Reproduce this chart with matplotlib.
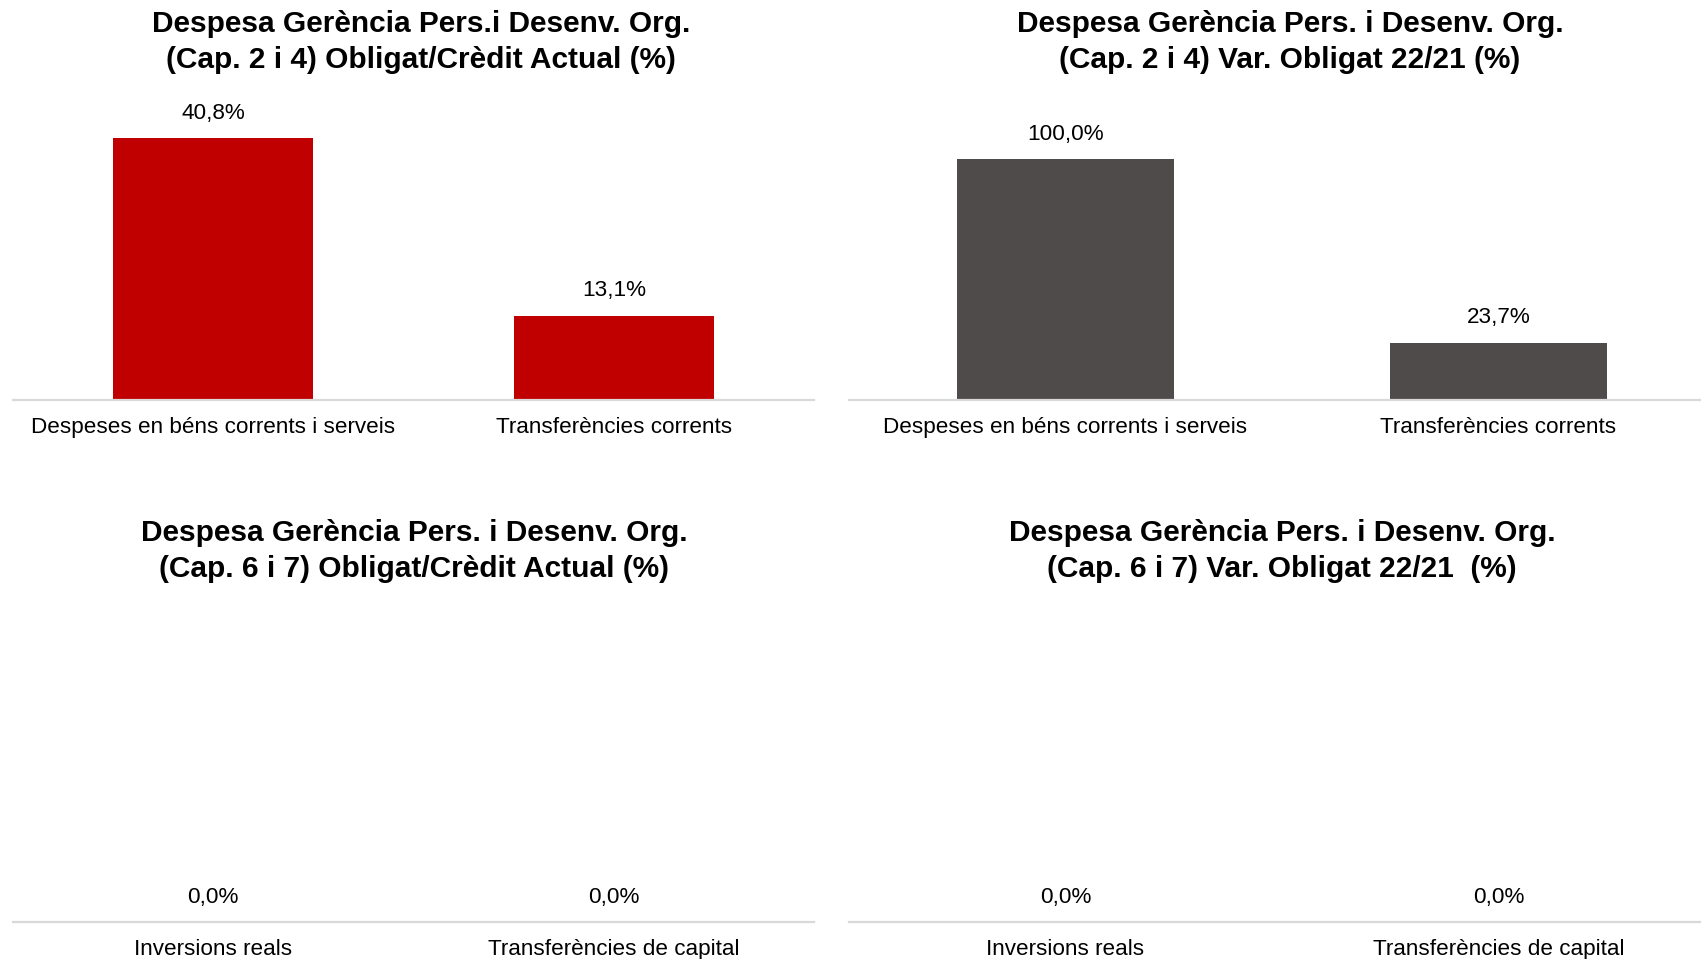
import matplotlib
matplotlib.use("Agg")
import matplotlib.pyplot as plt

plt.rcParams['font.family'] = ['Liberation Sans', 'DejaVu Sans']

# data
cats_corrent = ["Despeses en béns corrents i serveis", "Transferències corrents"]
cats_capital = ["Inversions reals", "Transferències de capital"]
obligat_credit_cap24 = [40.8, 13.1]
var_obligat_cap24 = [100.0, 23.7]
obligat_credit_cap67 = [0.0, 0.0]
var_obligat_cap67 = [0.0, 0.0]

titles = [
    "Despesa Gerència Pers.i Desenv. Org.\n(Cap. 2 i 4) Obligat/Crèdit Actual (%)",
    "Despesa Gerència Pers. i Desenv. Org.\n(Cap. 2 i 4) Var. Obligat 22/21 (%)",
    "Despesa Gerència Pers. i Desenv. Org.\n(Cap. 6 i 7) Obligat/Crèdit Actual (%)",
    "Despesa Gerència Pers. i Desenv. Org.\n(Cap. 6 i 7) Var. Obligat 22/21  (%)",
]

RED = "#C00000"
GREY = "#4F4B4A"

W, H = 1701, 959
fig = plt.figure(figsize=(W / 100, H / 100), dpi=100)


def px_axes(x0, x1, ytop, ybase):
    # pixel box (from top-left) -> figure fraction
    return fig.add_axes([x0 / W, (H - ybase) / H, (x1 - x0) / W, (ybase - ytop) / H])


def draw_panel(ax, cats, vals, color, ymax):
    x = range(len(cats))
    ax.bar(x, vals, width=0.5, color=color)
    ax.set_xlim(-0.5, len(cats) - 0.5)
    ax.set_ylim(0, ymax)
    ax.set_xticks(list(x))
    ax.set_xticklabels(cats, fontsize=16.2)
    ax.tick_params(axis='x', length=0, pad=12.5)
    ax.set_yticks([])
    for s in ['top', 'left', 'right']:
        ax.spines[s].set_visible(False)
    ax.spines['bottom'].set_color('#d9d9d9')
    ax.spines['bottom'].set_linewidth(1.6)
    for xi, v in zip(x, vals):
        ax.annotate(f"{v:.1f}%".replace('.', ','), (xi, v), xytext=(0, 18),
                    textcoords='offset points', ha='center', va='center', fontsize=16.2)


ax1 = px_axes(13, 814, 100, 400)
draw_panel(ax1, cats_corrent, obligat_credit_cap24, RED, 300 / 6.42)
ax2 = px_axes(849, 1715, 100, 400)
draw_panel(ax2, cats_corrent, var_obligat_cap24, GREY, 300 / 2.41)
ax3 = px_axes(13, 814, 600, 922)
draw_panel(ax3, cats_capital, obligat_credit_cap67, RED, 1)
ax4 = px_axes(849, 1715, 600, 922)
draw_panel(ax4, cats_capital, var_obligat_cap67, GREY, 1)

title_pos = [(421, 42), (1290, 42), (414, 551), (1282, 551)]
for (tx, ty), t in zip(title_pos, titles):
    fig.text(tx / W, 1 - ty / H, t, ha='center', va='center', fontsize=21.5,
             fontweight='bold', linespacing=1.32)

fig.savefig("out.png", dpi=100)
